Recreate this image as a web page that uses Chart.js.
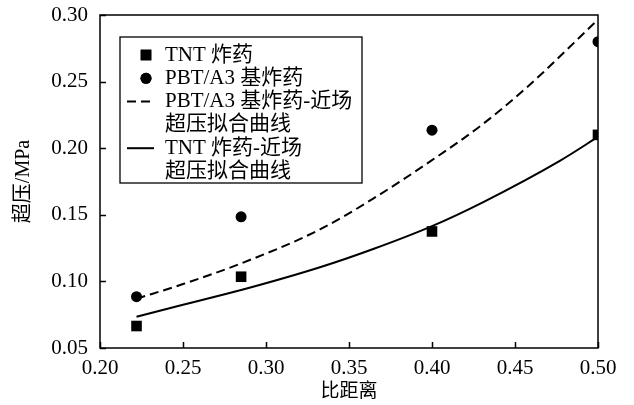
<!DOCTYPE html>
<html>
<head>
<meta charset="utf-8">
<script src="https://cdn.jsdelivr.net/npm/chart.js@4.4.1/dist/chart.umd.min.js"></script>
<style>
  html, body { margin: 0; padding: 0; background: #fff; }
</style>
</head>
<body>
<canvas id="myChart" width="634" height="405"></canvas>
<script>
// measured points
var tntX = [0.222, 0.285, 0.40, 0.50];
var tntY = [0.0665, 0.1035, 0.1375, 0.210];
var pbtX = [0.222, 0.285, 0.40, 0.50];
var pbtY = [0.0885, 0.1485, 0.2135, 0.280];

// fitted curves
var pbtFitX = [0.222, 0.25, 0.285, 0.3325, 0.365, 0.40, 0.43, 0.457, 0.50];
var pbtFitY = [0.087, 0.098, 0.1135, 0.139, 0.1625, 0.191, 0.2175, 0.2455, 0.2965];
var tntFitX = [0.222, 0.25, 0.285, 0.3325, 0.365, 0.40, 0.43, 0.477, 0.50];
var tntFitY = [0.0735, 0.0825, 0.0935, 0.1106, 0.1245, 0.1415, 0.159, 0.1905, 0.2085];

var legendLabels = [
  ["TNT 炸药"],
  ["PBT/A3 基炸药"],
  ["PBT/A3 基炸药-近场", "超压拟合曲线"],
  ["TNT 炸药-近场", "超压拟合曲线"]
];

var FONT = "'Liberation Serif', 'Times New Roman', 'Noto Sans CJK SC', serif";

function toPoints(xs, ys) {
  return xs.map(function (x, i) { return { x: x, y: ys[i] }; });
}

// box around the plot, inward ticks and the legend
var framePlugin = {
  id: 'frame',
  afterDraw: function (chart) {
    var ctx = chart.ctx;
    var a = chart.chartArea;
    var xs = chart.scales.x, ys = chart.scales.y;
    ctx.save();
    ctx.strokeStyle = '#000';
    ctx.lineWidth = 1.5;
    ctx.strokeRect(a.left, a.top, a.right - a.left, a.bottom - a.top);
    ctx.beginPath();
    xs.ticks.forEach(function (t) {
      var p = Math.round(xs.getPixelForValue(t.value)) + 0.5;
      ctx.moveTo(p, a.bottom);
      ctx.lineTo(p, a.bottom - 6);
    });
    ys.ticks.forEach(function (t) {
      var p = Math.round(ys.getPixelForValue(t.value)) + 0.5;
      ctx.moveTo(a.left, p);
      ctx.lineTo(a.left + 6, p);
    });
    ctx.stroke();

    // legend
    var lx = 120, ly = 37, lw = 242, lh = 146;
    ctx.fillStyle = '#fff';
    ctx.fillRect(lx, ly, lw, lh);
    ctx.lineWidth = 1.3;
    ctx.strokeRect(lx, ly, lw, lh);

    var rowH = 23.3;
    var textX = 165;
    var y0 = 55;
    ctx.fillStyle = '#000';
    ctx.font = '21px ' + FONT;
    ctx.textBaseline = 'middle';
    ctx.textAlign = 'left';

    var row = 0;
    legendLabels.forEach(function (lines, i) {
      var cy = y0 + row * rowH;
      var ds = chart.data.datasets[i];
      ctx.save();
      ctx.strokeStyle = '#000';
      ctx.fillStyle = '#000';
      if (ds.showLine) {
        ctx.lineWidth = ds.borderWidth;
        ctx.setLineDash(ds.borderDash || []);
        ctx.beginPath();
        ctx.moveTo(127, cy);
        ctx.lineTo(154, cy);
        ctx.stroke();
      } else {
        Chart.helpers.drawPoint(ctx, {
          pointStyle: ds.pointStyle,
          radius: ds.pointRadius,
          borderWidth: 0,
          rotation: 0
        }, 146, cy);
        ctx.fill();
      }
      ctx.restore();
      lines.forEach(function (t) {
        ctx.fillText(t, textX, y0 + row * rowH);
        row++;
      });
    });
    ctx.restore();
  }
};

new Chart(document.getElementById('myChart'), {
  type: 'scatter',
  data: {
    datasets: [
      {
        label: 'TNT 炸药',
        data: toPoints(tntX, tntY),
        pointStyle: 'rect',
        pointRadius: 7.5,
        backgroundColor: '#000',
        borderColor: '#000',
        borderWidth: 0
      },
      {
        label: 'PBT/A3 基炸药',
        data: toPoints(pbtX, pbtY),
        pointStyle: 'circle',
        pointRadius: 5.5,
        backgroundColor: '#000',
        borderColor: '#000',
        borderWidth: 0
      },
      {
        label: 'PBT/A3 基炸药-近场超压拟合曲线',
        data: toPoints(pbtFitX, pbtFitY),
        showLine: true,
        pointRadius: 0,
        borderColor: '#000',
        borderWidth: 2,
        borderDash: [9, 5],
        cubicInterpolationMode: 'monotone',
        fill: false
      },
      {
        label: 'TNT 炸药-近场超压拟合曲线',
        data: toPoints(tntFitX, tntFitY),
        showLine: true,
        pointRadius: 0,
        borderColor: '#000',
        borderWidth: 2,
        cubicInterpolationMode: 'monotone',
        fill: false
      }
    ]
  },
  options: {
    responsive: false,
    animation: false,
    events: [],
    layout: { padding: { left: 0, top: 15, right: 36, bottom: 0 } },
    plugins: {
      legend: { display: false },
      tooltip: { enabled: false }
    },
    scales: {
      x: {
        type: 'linear',
        min: 0.2,
        max: 0.5,
        grid: { display: false, drawTicks: false },
        border: { display: false },
        ticks: {
          stepSize: 0.05,
          color: '#000',
          padding: 8,
          font: { family: FONT, size: 21 },
          callback: function (v) { return v.toFixed(2); }
        },
        title: {
          display: true,
          text: '比距离',
          color: '#000',
          font: { family: FONT, size: 19, lineHeight: 1.2 },
          padding: { top: 0, bottom: 2 }
        },
        afterFit: function (scale) {
          scale.height = 57;
          scale.paddingLeft = 0;
          scale.paddingRight = 0;
        }
      },
      y: {
        type: 'linear',
        min: 0.05,
        max: 0.30,
        grid: { display: false, drawTicks: false },
        border: { display: false },
        ticks: {
          stepSize: 0.05,
          color: '#000',
          padding: 12,
          font: { family: FONT, size: 21 },
          callback: function (v) { return v.toFixed(2); }
        },
        title: {
          display: true,
          text: '超压/MPa',
          color: '#000',
          font: { family: FONT, size: 20, lineHeight: 1.2 },
          padding: { top: 12, bottom: 0 }
        },
        afterFit: function (scale) {
          scale.width = 100;
          scale.paddingTop = 0;
          scale.paddingBottom = 0;
        }
      }
    }
  },
  plugins: [framePlugin]
});
</script>
</body>
</html>
